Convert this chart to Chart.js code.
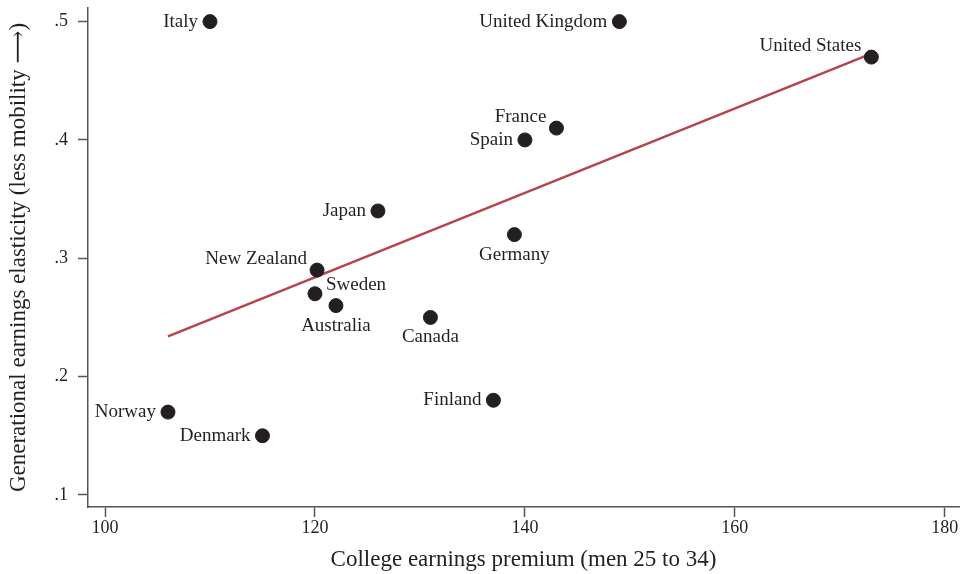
<!DOCTYPE html>
<html>
<head>
<meta charset="utf-8">
<script src="https://cdn.jsdelivr.net/npm/chart.js@4.4.0/dist/chart.umd.min.js"></script>
<style>
  html, body { margin: 0; padding: 0; background: #fff; }
  #wrap { width: 967px; height: 574px; }
</style>
</head>
<body>
<div id="wrap"><canvas id="chart"></canvas></div>
<script>
const countries = ['Italy', 'United Kingdom', 'United States', 'France', 'Spain', 'Japan', 'Germany',
  'New Zealand', 'Sweden', 'Australia', 'Canada', 'Finland', 'Norway', 'Denmark'];
const premium = [110, 149, 173, 143, 140, 126, 139, 120.2, 120, 122, 131, 137, 106, 115];
const elasticity = [0.50, 0.50, 0.47, 0.41, 0.40, 0.34, 0.32, 0.29, 0.27, 0.26, 0.25, 0.18, 0.17, 0.15];
const fitX = [106, 173];
const fitY = [0.234, 0.473];
const xTicks = [100, 120, 140, 160, 180];
const yTicks = [0.1, 0.2, 0.3, 0.4, 0.5];

const INK = '#231f20';
const AXIS = '#555';
const RED = '#b5444c';
const SERIF = "'Liberation Serif', 'DejaVu Serif', serif";

// where each label sits relative to its dot
const LABEL_POS = {
  'Italy': 'w', 'United Kingdom': 'w', 'United States': 'nw', 'France': 'nw', 'Spain': 'w',
  'Japan': 'w', 'Germany': 's', 'New Zealand': 'nw', 'Sweden': 'ne', 'Australia': 's',
  'Canada': 's', 'Finland': 'w', 'Norway': 'w', 'Denmark': 'w'
};

const pointLabels = {
  id: 'pointLabels',
  afterDatasetsDraw(chart) {
    const ctx = chart.ctx;
    const meta = chart.getDatasetMeta(1);
    ctx.save();
    ctx.font = '19px ' + SERIF;
    ctx.fillStyle = INK;
    meta.data.forEach((pt, i) => {
      const pos = LABEL_POS[countries[i]];
      let x = pt.x, y = pt.y;
      ctx.textBaseline = 'middle';
      if (pos === 'w') { ctx.textAlign = 'right'; x -= 12; }
      else if (pos === 'nw') { ctx.textAlign = 'right'; x -= 10; y -= 11; }
      else if (pos === 'ne') { ctx.textAlign = 'left'; x += 11; y -= 9; }
      else if (pos === 's') { ctx.textAlign = 'center'; y += 20; }
      ctx.fillText(countries[i], x, y);
    });
    ctx.restore();
  }
};

new Chart(document.getElementById('chart'), {
  type: 'scatter',
  data: {
    datasets: [
      {
        type: 'line',
        data: fitX.map((x, i) => ({ x: x, y: fitY[i] })),
        borderColor: RED, borderWidth: 2.5, pointRadius: 0, fill: false, order: 2
      },
      {
        data: premium.map((x, i) => ({ x: x, y: elasticity[i] })),
        backgroundColor: INK, borderColor: INK, pointRadius: 7, pointHoverRadius: 7, order: 1
      }
    ]
  },
  options: {
    responsive: true,
    maintainAspectRatio: false,
    animation: false,
    events: [],
    layout: { padding: { top: 4, right: 1, left: 0, bottom: 0 } },
    plugins: { legend: { display: false }, tooltip: { enabled: false } },
    scales: {
      x: {
        type: 'linear', min: 98.38, max: 181.35,
        afterBuildTicks: (s) => { s.ticks = xTicks.map(v => ({ value: v })); },
        afterFit: (s) => { s.height = 67; s.paddingLeft = 0; s.paddingRight = 0; },
        border: { display: true, color: AXIS, width: 1.5 },
        grid: { display: true, drawOnChartArea: false, drawTicks: true, tickLength: 10, tickWidth: 1.5, tickColor: AXIS },
        ticks: { color: INK, font: { family: SERIF, size: 18 }, padding: 0, maxRotation: 0 },
        title: { display: true, text: 'College earnings premium (men 25 to 34)', color: INK,
          font: { family: SERIF, size: 23 }, padding: { top: 0, bottom: 0 } }
      },
      y: {
        type: 'linear', min: 0.0898, max: 0.5115,
        afterBuildTicks: (s) => { s.ticks = yTicks.map(v => ({ value: v })); },
        afterFit: (s) => { s.width = 88; s.paddingTop = 0; s.paddingBottom = 0; },
        border: { display: true, color: AXIS, width: 1.5 },
        grid: { display: true, drawOnChartArea: false, drawTicks: true, tickLength: 10, tickWidth: 1.5, tickColor: AXIS },
        ticks: { color: INK, font: { family: SERIF, size: 18 }, padding: 10,
          callback: (v) => String(Math.round(v * 10) / 10).replace(/^0/, '') },
        title: { display: true, text: 'Generational earnings elasticity (less mobility \u27F6)', color: INK,
          font: { family: SERIF, size: 23 }, padding: { top: 5, bottom: 0 } }
      }
    }
  },
  plugins: [pointLabels]
});
</script>
</body>
</html>
